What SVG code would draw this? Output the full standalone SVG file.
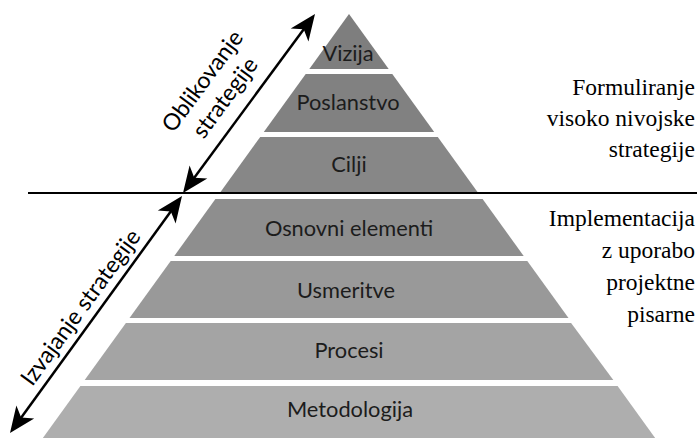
<svg xmlns="http://www.w3.org/2000/svg" width="697" height="438" viewBox="0 0 697 438">
  <style>
    .band { stroke: none; }
    .lvl { font-family: Lato, "Liberation Sans", sans-serif; font-size: 21.8px; fill: #1c1c1c; text-anchor: middle; }
    .side { font-family: Lato, "Liberation Sans", sans-serif; font-size: 23px; fill: #000; text-anchor: middle; }
    .note { font-family: "Liberation Serif", "Times New Roman", serif; font-size: 23.5px; fill: #000; text-anchor: end; }
    .arrow { stroke: #000; stroke-width: 2.5; fill: none; marker-start: url(#head); marker-end: url(#head); }
  </style>
  <defs>
    <marker id="head" markerUnits="userSpaceOnUse" viewBox="-22 -12 28 24" refX="0" refY="0" markerWidth="28" markerHeight="24" orient="auto-start-reverse">
      <path d="M5,0 L-21,-11 L-14,0 L-21,11 Z" fill="#000"/>
    </marker>
  </defs>

  <rect width="697" height="438" fill="#fff"/>

  <!-- pyramid levels -->
  <g id="vizija">
    <polygon class="band" points="349,14 388.7,69 309.3,69" fill="#7e7e7e"/>
    <text class="lvl" x="348" y="61">Vizija</text>
  </g>
  <g id="poslanstvo">
    <polygon class="band" points="305.7,74 392.3,74 434.2,132 263.8,132" fill="#818181"/>
    <text class="lvl" x="348" y="110">Poslanstvo</text>
  </g>
  <g id="cilji">
    <polygon class="band" points="260.2,137 437.8,137 477.5,192 220.5,192" fill="#878787"/>
    <text class="lvl" x="349" y="172">Cilji</text>
  </g>
  <g id="osnovni-elementi">
    <polygon class="band" points="215.4,199 482.6,199 523.7,256 174.3,256" fill="#8e8e8e"/>
    <text class="lvl" x="349" y="236">Osnovni elementi</text>
  </g>
  <g id="usmeritve">
    <polygon class="band" points="170.7,261 527.3,261 568.5,318 129.5,318" fill="#999999"/>
    <text class="lvl" x="346" y="298">Usmeritve</text>
  </g>
  <g id="procesi">
    <polygon class="band" points="125.9,323 571.1,323 613.3,380 84.7,380" fill="#a4a4a4"/>
    <text class="lvl" x="349" y="358">Procesi</text>
  </g>
  <g id="metodologija">
    <polygon class="band" points="80.4,386 617.6,386 657.3,441 40.7,441" fill="#aeaeae"/>
    <text class="lvl" x="350" y="417">Metodologija</text>
  </g>

  <!-- divider between formulation and implementation, and the two phase arrows -->
  <g id="connectors">
    <line x1="28" y1="193" x2="697" y2="193" stroke="#000" stroke-width="2"/>
    <line class="arrow" x1="185.97" y1="188.98" x2="312.03" y2="18.02"/>
    <line class="arrow" x1="179.06" y1="200.05" x2="12.94" y2="428.95"/>
  </g>

  <!-- phase labels along the arrows -->
  <g id="oblikovanje" transform="translate(220,94) rotate(-53.6)">
    <text class="side" x="0" y="-14">Oblikovanje</text>
    <text class="side" x="0" y="14">strategije</text>
  </g>
  <g id="izvajanje" transform="translate(87,312) rotate(-54)">
    <text class="side" x="0" y="0">Izvajanje strategije</text>
  </g>

  <!-- right-hand notes -->
  <g id="formuliranje">
    <text class="note" x="695" y="95">Formuliranje</text>
    <text class="note" x="695" y="126">visoko nivojske</text>
    <text class="note" x="695" y="157">strategije</text>
  </g>
  <g id="implementacija">
    <text class="note" x="695" y="226">Implementacija</text>
    <text class="note" x="695" y="258">z uporabo</text>
    <text class="note" x="695" y="290">projektne</text>
    <text class="note" x="695" y="322">pisarne</text>
  </g>
</svg>
